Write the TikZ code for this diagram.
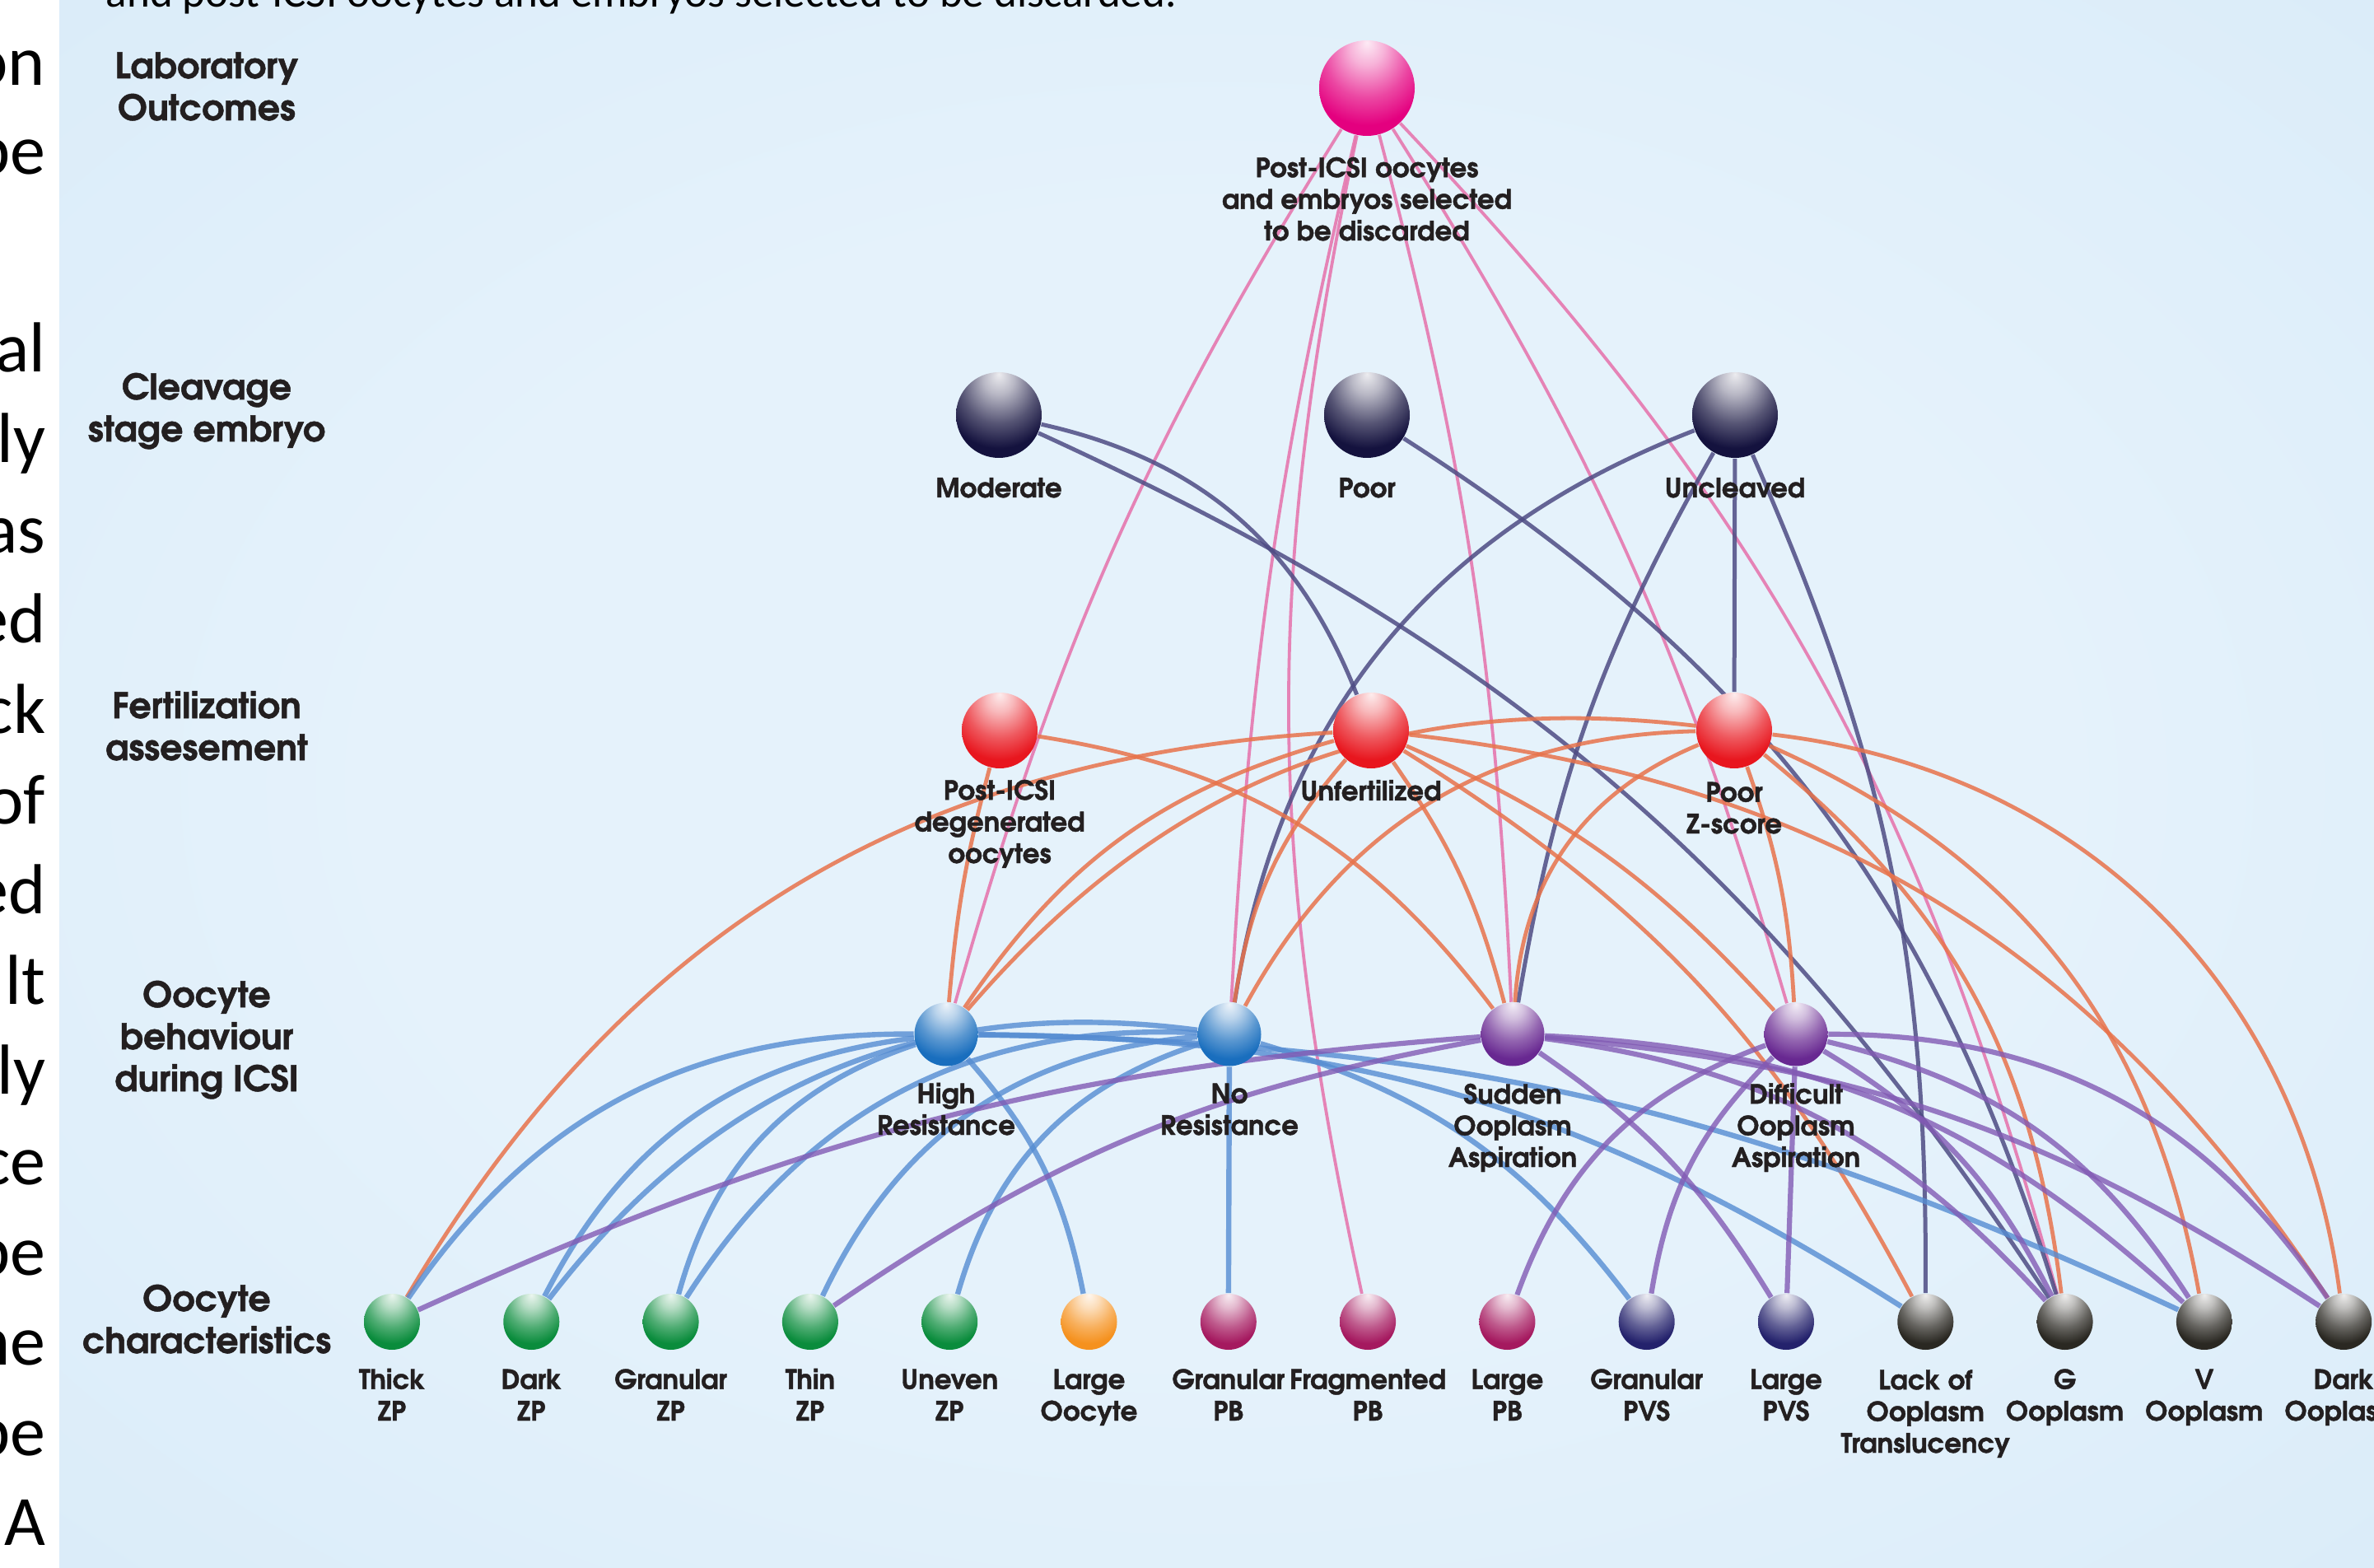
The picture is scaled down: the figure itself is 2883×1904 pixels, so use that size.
\documentclass[tikz,border=0pt]{standalone}
\usepackage{fontspec}
\setmainfont{Carlito}
\IfFontExistsTF{texgyreadventor-bold.otf}
  {\newfontfamily\advfont{texgyreadventor-bold.otf}[FakeBold=1.2]}
  {\newfontfamily\advfont{Poppins}}
\pgfdeclarelayer{bg}
\pgfdeclarelayer{edges}
\pgfsetlayers{bg,edges,main}
\makeatletter
\pgfdeclareradialshading[tikz@ball]{glossy}{\pgfqpoint{0bp}{24bp}}{%
 color(0bp)=(tikz@ball!8!white);
 color(9bp)=(tikz@ball!30!white);
 color(22bp)=(tikz@ball!72!white);
 color(33bp)=(tikz@ball);
 color(60bp)=(tikz@ball);
 color(76bp)=(tikz@ball!85!black)}
\makeatother
\definecolor{bgC}{RGB}{229,242,251}
\definecolor{bgE}{RGB}{203,227,246}
\definecolor{txt}{RGB}{35,31,32}
\definecolor{cPink}{RGB}{228,0,127}
\definecolor{cNavy}{RGB}{20,18,62}
\definecolor{cRed}{RGB}{232,22,30}
\definecolor{cBlue}{RGB}{25,110,190}
\definecolor{cPurple}{RGB}{104,40,145}
\definecolor{cGreen}{RGB}{10,140,60}
\definecolor{cOrange}{RGB}{245,145,30}
\definecolor{cMaroon}{RGB}{165,25,95}
\definecolor{cIndigo}{RGB}{36,34,108}
\definecolor{cGray}{RGB}{42,40,34}
\definecolor{ePink}{RGB}{230,120,175}
\definecolor{eNavy}{RGB}{78,76,132}
\definecolor{eOrange}{RGB}{232,115,75}
\definecolor{eBlue}{RGB}{85,140,210}
\definecolor{ePurple}{RGB}{130,90,180}
\pgfdeclareradialshading{bgsh}{\pgfpoint{0bp}{0bp}}{color(0bp)=(bgC); color(18bp)=(bgC); color(62bp)=(bgE); color(90bp)=(bgE)}
\begin{document}
\begin{tikzpicture}[x=0.25pt,y=-0.25pt,
  sph/.style 2 args={circle,inner sep=0pt,minimum size=#1,ball color=#2,shading=glossy},
  lab/.style={font=\advfont\fontsize{8.1pt}{9.6pt}\selectfont,align=center,text=txt,inner sep=0pt,anchor=base},
  head/.style={font=\advfont\fontsize{10.7pt}{12.75pt}\selectfont,align=center,text=txt,inner sep=0pt,anchor=base},
  strip/.style={font=\fontsize{21.5pt}{26pt}\selectfont,anchor=base east,inner sep=0pt,text=black},
  pinkE/.style={draw=ePink,line width=0.95pt,draw opacity=0.9},
  navyE/.style={draw=eNavy,line width=1.25pt,draw opacity=0.85},
  orE/.style={draw=eOrange,line width=1.2pt,draw opacity=0.85},
  blE/.style={draw=eBlue,line width=1.6pt,draw opacity=0.8},
  puE/.style={draw=ePurple,line width=1.55pt,draw opacity=0.8}]
\useasboundingbox (0,0) rectangle (2883,1904);
\clip (0,0) rectangle (2883,1904);
\begin{pgfonlayer}{bg}
\fill[white] (0,0) rectangle (2883,1904);
\shade[shading=bgsh] (72,0) rectangle (2883,1904);
\end{pgfonlayer}

% caption fragment and cut text strip
\node[font=\fontsize{13.25pt}{16pt}\selectfont,anchor=base west,inner sep=0pt] (cap) at (128,9) {and post-ICSI oocytes and embryos selected to be discarded.};
\node[strip] (s1) at (56,103.6) {on};
\node[strip] (s2) at (56,212) {be};
\node[strip] (s3) at (56,452) {al};
\node[strip] (s4) at (56,561.6) {ly};
\node[strip] (s5) at (56,671.2) {as};
\node[strip] (s6) at (56,780.8) {ed};
\node[strip] (s7) at (56,890.4) {ck};
\node[strip] (s8) at (56,1000) {of};
\node[strip] (s9) at (56,1109.6) {ed};
\node[strip] (s10) at (56,1219.2) {lt};
\node[strip] (s11) at (56,1328.8) {ly};
\node[strip] (s12) at (56,1438.4) {ce};
\node[strip] (s13) at (56,1548) {be};
\node[strip] (s14) at (56,1657.6) {ne};
\node[strip] (s15) at (56,1767.2) {be};
\node[strip] (s16) at (56,1876.8) {A};

% row headings (anchor = baseline of last line)
\node[head] (h1) at (251,146) {Laboratory\\Outcomes};
\node[head] (h2) at (251,536) {Cleavage\\stage embryo};
\node[head] (h3) at (251,923) {Fertilization\\assesement};
\node[head] (h4) at (251,1325) {Oocyte\\behaviour\\during ICSI};
\node[head] (h5) at (251,1643) {Oocyte\\characteristics};

% spheres
\node[sph={29pt}{cPink}] (P) at (1660,107) {};
\node[sph={26pt}{cNavy}] (Mod) at (1213,504) {};
\node[sph={26pt}{cNavy}] (Poor) at (1660,504) {};
\node[sph={26pt}{cNavy}] (Unc) at (2107,504) {};
\node[sph={23pt}{cRed}] (Deg) at (1214,887) {};
\node[sph={23pt}{cRed}] (Unf) at (1665,887) {};
\node[sph={23pt}{cRed}] (PZ) at (2106,887) {};
\node[sph={19.25pt}{cBlue}] (HR) at (1149,1256) {};
\node[sph={19.25pt}{cBlue}] (NR) at (1493,1256) {};
\node[sph={19.25pt}{cPurple}] (SU) at (1837,1256) {};
\node[sph={19.25pt}{cPurple}] (DI) at (2181,1256) {};
\node[sph={17pt}{cGreen}] (b1) at (476,1605) {};
\node[sph={17pt}{cGreen}] (b2) at (645.3,1605) {};
\node[sph={17pt}{cGreen}] (b3) at (814.6,1605) {};
\node[sph={17pt}{cGreen}] (b4) at (983.9,1605) {};
\node[sph={17pt}{cGreen}] (b5) at (1153.2,1605) {};
\node[sph={17pt}{cOrange}] (b6) at (1322.5,1605) {};
\node[sph={17pt}{cMaroon}] (b7) at (1491.8,1605) {};
\node[sph={17pt}{cMaroon}] (b8) at (1661.1,1605) {};
\node[sph={17pt}{cMaroon}] (b9) at (1830.4,1605) {};
\node[sph={17pt}{cIndigo}] (b10) at (1999.7,1605) {};
\node[sph={17pt}{cIndigo}] (b11) at (2169,1605) {};
\node[sph={17pt}{cGray}] (b12) at (2338.3,1605) {};
\node[sph={17pt}{cGray}] (b13) at (2507.6,1605) {};
\node[sph={17pt}{cGray}] (b14) at (2676.9,1605) {};
\node[sph={17pt}{cGray}] (b15) at (2846.2,1605) {};

% connectors
\begin{pgfonlayer}{edges}
\draw[pinkE] (P) to[bend right=8] (HR);
\draw[pinkE] (P) to[bend right=5] (NR);
\draw[pinkE] (P) to[bend right=12] (b8);
\draw[pinkE] (P) to[bend left=6] (SU);
\draw[pinkE] (P) to[bend left=8] (DI);
\draw[pinkE] (P) to[bend left=14] (b13);
\draw[navyE] (Mod) to[bend left=28] (Unf);
\draw[navyE] (Mod) to[bend left=16] (b13);
\draw[navyE] (Poor) to[bend left=20] (b13);
\draw[navyE] (Unc) to[bend right=30] (NR);
\draw[navyE] (Unc) to[bend right=10] (SU);
\draw[navyE] (Unc) -- (PZ);
\draw[navyE] (Unc) to[bend left=12] (b12);
\draw[orE] (Deg) to[bend right=5] (HR);
\draw[orE] (Deg) to[bend left=22] (SU);
\draw[orE] (Unf) to[bend right=28] (b1);
\draw[orE] (Unf) to[bend right=20] (HR);
\draw[orE] (Unf) to[bend right=16] (NR);
\draw[orE] (Unf) to[bend left=10] (SU);
\draw[orE] (Unf) to[bend left=12] (DI);
\draw[orE] (Unf) to[bend left=15] (b12);
\draw[orE] (Unf) to[bend left=25] (b15);
\draw[orE] (PZ) to[bend right=28] (HR);
\draw[orE] (PZ) to[bend right=30] (NR);
\draw[orE] (PZ) to[bend right=32] (SU);
\draw[orE] (PZ) to[bend left=8] (DI);
\draw[orE] (PZ) to[bend left=22] (b13);
\draw[orE] (PZ) to[bend left=28] (b14);
\draw[orE] (PZ) to[bend left=38] (b15);
\draw[blE] (HR) to[bend right=28] (b1);
\draw[blE] (HR) to[bend right=28] (b2);
\draw[blE] (HR) to[bend right=28] (b3);
\draw[blE] (HR) to[bend left=15] (b6);
\draw[blE] (HR) to[bend left=16] (b12);
\draw[blE] (HR) to[bend left=12] (b14);
\draw[blE] (NR) to[bend right=30] (b2);
\draw[blE] (NR) to[bend right=30] (b3);
\draw[blE] (NR) to[bend right=30] (b4);
\draw[blE] (NR) to[bend right=28] (b5);
\draw[blE] (NR) -- (b7);
\draw[blE] (NR) to[bend left=18] (b10);
\draw[puE] (SU) to[bend right=10] (b1);
\draw[puE] (SU) to[bend right=12] (b4);
\draw[puE] (SU) to[bend left=12] (b11);
\draw[puE] (SU) to[bend left=20] (b13);
\draw[puE] (SU) to[bend left=20] (b14);
\draw[puE] (SU) to[bend left=14] (b15);
\draw[puE] (DI) to[bend right=25] (b9);
\draw[puE] (DI) to[bend right=18] (b10);
\draw[puE] (DI) -- (b11);
\draw[puE] (DI) to[bend left=16] (b13);
\draw[puE] (DI) to[bend left=22] (b14);
\draw[puE] (DI) to[bend left=28] (b15);
\end{pgfonlayer}

% labels (anchor = baseline of last line)
\node[lab] (tP) at (1660,292) {Post-ICSI oocytes\\and embryos selected\\to be discarded};
\node[lab] (tMod) at (1213,604) {Moderate};
\node[lab] (tPoor) at (1660,604) {Poor};
\node[lab] (tUnc) at (2107,604) {Uncleaved};
\node[lab] (tDeg) at (1214,1048) {Post-ICSI\\degenerated\\oocytes};
\node[lab] (tUnf) at (1665,972) {Unfertilized};
\node[lab] (tPZ) at (2106,1012) {Poor\\Z-score};
\node[lab] (tHR) at (1149,1378) {High\\Resistance};
\node[lab] (tNR) at (1493,1378) {No\\Resistance};
\node[lab] (tSU) at (1837,1417) {Sudden\\Ooplasm\\Aspiration};
\node[lab] (tDI) at (2181,1417) {Difficult\\Ooplasm\\Aspiration};
\node[lab] (t1) at (476,1725) {Thick\\ZP};
\node[lab] (t2) at (645.3,1725) {Dark\\ZP};
\node[lab] (t3) at (814.6,1725) {Granular\\ZP};
\node[lab] (t4) at (983.9,1725) {Thin\\ZP};
\node[lab] (t5) at (1153.2,1725) {Uneven\\ZP};
\node[lab] (t6) at (1322.5,1725) {Large\\Oocyte};
\node[lab] (t7) at (1491.8,1725) {Granular\\PB};
\node[lab] (t8) at (1661.1,1725) {Fragmented\\PB};
\node[lab] (t9) at (1830.4,1725) {Large\\PB};
\node[lab] (t10) at (1999.7,1725) {Granular\\PVS};
\node[lab] (t11) at (2169,1725) {Large\\PVS};
\node[lab] (t12) at (2338.3,1764) {Lack of\\Ooplasm\\Translucency};
\node[lab] (t13) at (2507.6,1725) {G\\Ooplasm};
\node[lab] (t14) at (2676.9,1725) {V\\Ooplasm};
\node[lab] (t15) at (2846.2,1725) {Dark\\Ooplasm};
\end{tikzpicture}
\end{document}
